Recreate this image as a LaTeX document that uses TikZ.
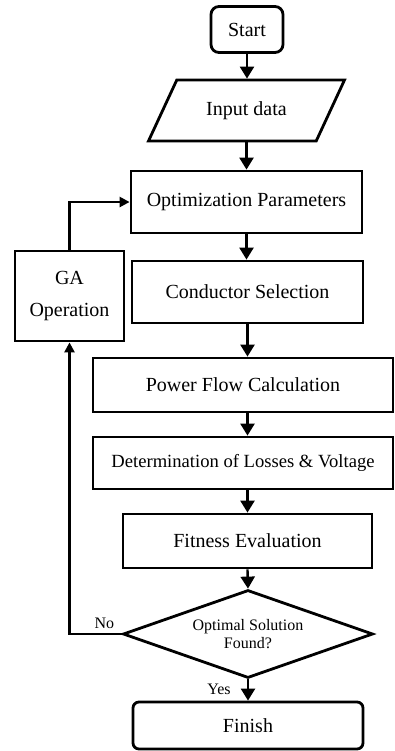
\documentclass[tikz,border=0pt]{standalone}
\usepackage{fontspec}
\setmainfont{Liberation Serif}
\usetikzlibrary{shapes.geometric,arrows.meta}

\begin{document}
\begin{tikzpicture}[
    x=0.5pt, y=-0.5pt,
    every node/.style={inner sep=2pt, font=\fontsize{10}{12}\selectfont},
    proc/.style={draw, line width=1.4pt},
    term/.style={proc, rounded corners=4pt},
    io/.style={proc, trapezium, trapezium left angle=55.5, trapezium right angle=124.5, trapezium stretches=true},
    decision/.style={proc, diamond, aspect=2.8, inner sep=0pt},
    arr/.style={-{Triangle[length=6pt,width=7pt]}, line width=1.2pt},
    back/.style={-{Triangle[length=5pt,width=5pt]}, line width=1.2pt},
    lbl/.style={inner sep=0.5pt, font=\fontsize{8}{9}\selectfont}
]
\useasboundingbox (0,0) rectangle (395,751);

% main column
\node[term, minimum width=36pt, minimum height=23pt] (start) at (247,29.5) {Start};
\node[io, minimum width=98.5pt, minimum height=30.5pt] (input) at (246.5,110.5) {Input data};
\node[proc, minimum width=115.5pt, minimum height=31pt] (opt) at (246.5,202) {Optimization Parameters};
\node[proc, minimum width=115.5pt, minimum height=31pt] (cond) at (247.5,292) {Conductor Selection};
\node[proc, minimum width=150pt, minimum height=27pt] (flow) at (243,385) {Power Flow Calculation};
\node[proc, minimum width=150pt, minimum height=26pt, font=\fontsize{9.3}{11}\selectfont] (loss) at (243,463) {Determination of Losses \& Voltage};
\node[proc, minimum width=124.5pt, minimum height=27pt] (fit) at (247.5,541) {Fitness Evaluation};
\node[decision, minimum width=125pt, minimum height=44pt, align=center, font=\fontsize{8}{9}\selectfont] (check) at (248,634) {Optimal Solution\\Found?};
\node[term, rounded corners=3pt, minimum width=115pt, minimum height=23.5pt] (finish) at (248,725.5) {Finish};

% loop box
\node[proc, minimum width=54.5pt, minimum height=45pt, align=center] (ga) at (69.5,296) {GA\\[4pt]Operation};

\draw[arr] (start.south) -- (start.south |- input.north);
\draw[arr] (input.south) -- (input.south |- opt.north);
\draw[arr] (opt.south) -- (opt.south |- cond.north);
\draw[arr] (cond.south) -- (cond.south |- flow.north);
\draw[arr] (cond.south |- flow.south) -- (cond.south |- loss.north);
\draw[arr] (cond.south |- loss.south) -- (cond.south |- fit.north);
\draw[arr] (fit.south) -- (check.north);
\draw[arr] (check.south) -- (finish.north);

% back to the optimizer
\draw[back] (check.west) -| (ga.south);
\draw[back] (ga.north) |- (opt.west);

\node[lbl, anchor=south east] (no) at ([xshift=-3pt, yshift=2pt]check.west) {No};
\node[lbl, anchor=north east] (yes) at ([xshift=-8pt, yshift=-1.5pt]check.south) {Yes};
\end{tikzpicture}
\end{document}
